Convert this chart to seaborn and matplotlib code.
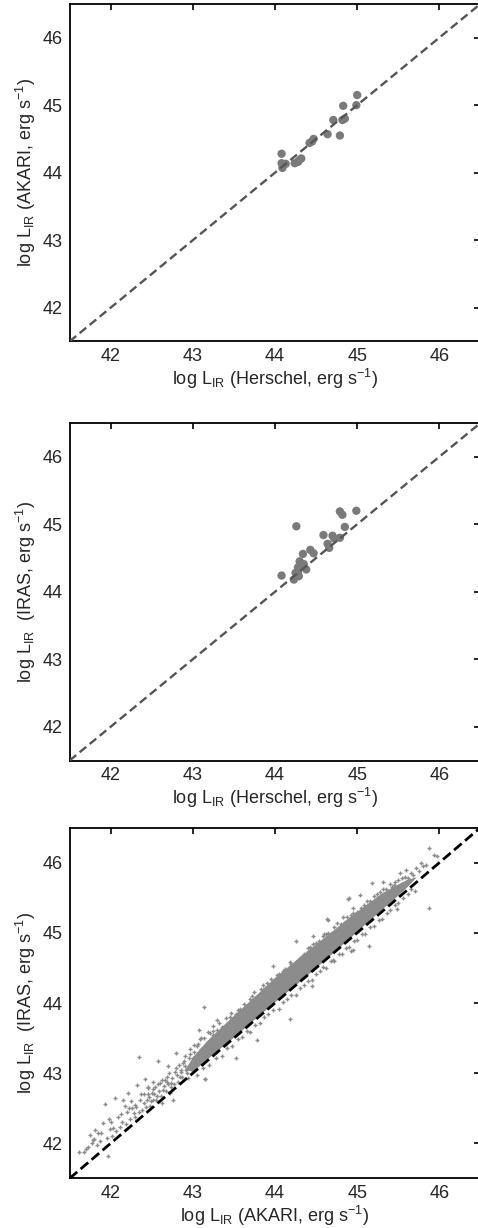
import numpy as np
import pandas as pd
import matplotlib
matplotlib.use("Agg")
import matplotlib.pyplot as plt
import seaborn as sns

# ---- data ----
lims = [41.5, 46.5]          # 1:1 line / axis range
ticks = [42, 43, 44, 45, 46]

# panel 1: Herschel vs AKARI
herschel_1 = [44.08, 44.08, 44.09, 44.13, 44.24, 44.28, 44.32, 44.29, 44.42, 44.47,
              44.45, 44.64, 44.71, 44.79, 44.83, 44.82, 44.85, 44.99, 45.00]
akari_1 = [44.28, 44.14, 44.07, 44.13, 44.14, 44.16, 44.21, 44.18, 44.44, 44.50,
           44.46, 44.57, 44.78, 44.55, 44.99, 44.78, 44.80, 45.00, 45.15]

# panel 2: Herschel vs IRAS
herschel_2 = [44.08, 44.26, 44.23, 44.25, 44.28, 44.30, 44.29, 44.34, 44.35, 44.38,
              44.43, 44.47, 44.59, 44.64, 44.66, 44.70, 44.72, 44.79, 44.79, 44.82,
              44.85, 44.99, 44.28]
iras_2 = [44.24, 44.97, 44.18, 44.28, 44.36, 44.45, 44.23, 44.56, 44.41, 44.33,
          44.62, 44.57, 44.84, 44.71, 44.65, 44.83, 44.79, 44.80, 45.19, 45.14,
          44.96, 45.20, 44.28]

# panel 3: AKARI vs IRAS, solid core of the cloud (lower / upper envelope)
core_x = [42.90, 43.0, 43.2, 43.5, 43.8, 44.0, 44.3, 44.6, 44.9, 45.1, 45.3, 45.45, 45.60, 45.72]
core_lo = [43.05, 43.03, 43.23, 43.52, 43.82, 44.02, 44.31, 44.61, 44.92, 45.13, 45.34, 45.49, 45.65, 45.80]
core_hi = [43.05, 43.24, 43.50, 43.83, 44.15, 44.37, 44.66, 44.94, 45.22, 45.40, 45.57, 45.67, 45.76, 45.80]

# panel 3: faint end (x < 43.3)
low_x = [41.61, 41.67, 41.70, 41.75, 41.77, 41.81, 41.87, 41.91, 41.93, 41.97,
         41.99, 42.01, 42.05, 42.09, 42.11, 42.15, 42.17, 42.21, 42.23, 42.28,
         42.32, 42.34, 42.36, 42.38, 42.42, 42.44, 42.46, 42.48, 42.50, 42.52,
         42.56, 42.58, 42.60, 42.62, 42.64, 42.68, 42.70, 42.72, 42.74, 42.76,
         42.78, 42.80, 42.82, 42.84, 42.88, 42.90, 42.92, 42.94, 42.96, 42.98,
         43.00, 43.05, 43.07, 43.09, 43.11, 43.15, 43.17, 43.21, 43.25, 43.29,
         41.80, 41.85, 42.00, 42.20, 42.26, 42.40, 42.54, 42.66, 42.86, 42.45,
         42.70, 42.52, 42.30,
         41.72, 41.78, 41.83, 41.88, 41.95, 41.98, 42.03, 42.07, 42.12, 42.14,
         42.19, 42.22, 42.25, 42.29, 42.31, 42.35, 42.37, 42.40, 42.43, 42.45,
         42.47, 42.49, 42.51, 42.53, 42.55, 42.57, 42.59, 42.61, 42.63, 42.65,
         42.67, 42.69, 42.71, 42.73, 42.75, 42.77, 42.79, 42.81, 42.83, 42.85,
         42.87, 42.89, 42.91, 42.93, 42.95, 42.97, 42.99, 43.01, 43.03, 43.06,
         43.08, 43.10, 43.12, 43.14, 43.16, 43.19, 43.22, 43.24, 43.27, 43.30]
low_y = [41.87, 41.88, 41.92, 42.12, 42.00, 42.19, 42.04, 42.29, 42.56, 41.82,
         42.20, 42.11, 42.64, 42.37, 42.23, 42.62, 42.53, 42.72, 42.34, 42.43,
         42.83, 43.23, 42.62, 42.48, 42.91, 42.62, 42.79, 42.53, 42.72, 42.88,
         42.67, 43.18, 42.86, 42.57, 42.76, 42.95, 43.10, 42.72, 42.86, 42.62,
         43.02, 43.29, 42.88, 42.95, 43.14, 43.24, 43.05, 42.93, 43.34, 43.13,
         43.22, 43.38, 43.14, 43.48, 43.29, 42.91, 43.43, 43.57, 43.67, 43.76,
         42.06, 42.15, 42.30, 42.45, 42.50, 42.70, 42.80, 42.90, 43.05, 42.70,
         42.85, 42.62, 42.55,
         41.95, 42.05, 41.98, 42.15, 42.08, 42.35, 42.22, 42.18, 42.42, 42.30,
         42.28, 42.50, 42.60, 42.38, 42.52, 42.45, 42.70, 42.58, 42.52, 42.80,
         42.66, 42.60, 42.78, 42.70, 42.62, 42.85, 42.74, 42.68, 42.90, 42.82,
         42.74, 42.88, 43.00, 42.80, 42.93, 42.85, 43.08, 42.98, 43.12, 43.02,
         42.94, 43.18, 43.10, 43.00, 43.22, 43.28, 43.05, 43.30, 43.18, 43.42,
         43.26, 43.35, 43.20, 43.50, 43.30, 43.45, 43.38, 43.55, 43.48, 43.62]

# panel 3: upper fringe of the cloud
up_x = [43.02, 43.10, 43.18, 43.25, 43.32, 43.40, 43.46, 43.55, 43.62, 43.70,
        43.75, 43.83, 43.90, 43.95, 44.05, 44.12, 44.20, 44.28, 44.35, 44.42,
        44.50, 44.58, 44.65, 44.72, 44.80, 44.88, 44.95, 45.05, 45.12, 45.20,
        45.28, 45.35, 45.42, 45.50, 45.58, 45.65, 45.72,
        43.35, 43.45, 43.52, 43.65, 43.72, 43.80, 43.86, 43.98, 44.02, 44.10,
        44.18, 44.24, 44.32, 44.40, 44.46, 44.54, 44.62, 44.68, 44.76, 44.85,
        44.92, 45.00, 45.08, 45.16, 45.24, 45.32, 45.40, 45.46, 45.55,
        43.30, 43.42, 43.58, 43.65, 43.88, 44.10, 44.40, 44.60, 45.25, 45.45]
up_y = [43.40, 43.50, 43.58, 43.60, 43.72, 43.78, 43.86, 43.90, 43.98, 44.05,
        44.15, 44.20, 44.28, 44.34, 44.42, 44.48, 44.55, 44.62, 44.70, 44.80,
        44.86, 44.95, 45.00, 45.08, 45.12, 45.22, 45.28, 45.36, 45.45, 45.52,
        45.58, 45.62, 45.66, 45.75, 45.80, 45.85, 45.93,
        43.66, 43.80, 43.84, 43.95, 44.10, 44.12, 44.26, 44.30, 44.40, 44.42,
        44.58, 44.56, 44.66, 44.72, 44.84, 44.88, 44.98, 44.98, 45.14, 45.16,
        45.26, 45.30, 45.40, 45.46, 45.55, 45.62, 45.70, 45.72, 45.78,
        43.55, 43.70, 43.92, 43.95, 44.22, 44.45, 44.78, 44.98, 45.50, 45.68]

# panel 3: lower fringe (at / below the 1:1 line)
dn_x = [43.05, 43.20, 43.35, 43.48, 43.60, 43.70, 43.82, 43.92, 44.05, 44.15,
        44.25, 44.35, 44.45, 44.55, 44.62, 44.72, 44.82, 44.90, 45.00, 45.10,
        45.20, 45.30, 45.40, 45.50, 45.62,
        43.12, 43.28, 43.42, 43.55, 43.66, 43.76, 43.87, 43.98, 44.10, 44.20,
        44.30, 44.40, 44.50, 44.58, 44.68, 44.78, 44.86, 44.96, 45.06, 45.16,
        45.26, 45.36, 45.46, 45.56, 45.66]
dn_y = [42.98, 43.12, 43.25, 43.38, 43.52, 43.58, 43.72, 43.85, 43.92, 44.05,
        44.12, 44.25, 44.33, 44.45, 44.50, 44.60, 44.70, 44.80, 44.90, 44.98,
        45.10, 45.20, 45.32, 45.42, 45.55,
        43.08, 43.22, 43.36, 43.48, 43.60, 43.68, 43.80, 43.90, 44.02, 44.12,
        44.22, 44.32, 44.42, 44.52, 44.60, 44.70, 44.78, 44.88, 44.98, 45.08,
        45.18, 45.28, 45.40, 45.50, 45.62]

# panel 3: isolated outliers
out_x = [43.13, 43.15, 43.53, 43.78, 44.18, 43.08, 43.98, 44.89, 44.95, 44.25,
         44.65, 45.88, 45.93, 45.97, 45.78, 45.84, 45.18, 45.03, 44.90, 44.63,
         44.46, 45.88, 45.70, 45.48, 45.15, 44.93, 44.71, 44.45, 44.83, 45.32,
         45.52, 45.60, 44.95, 45.62, 45.68, 45.75, 45.80]
out_y = [43.94, 42.91, 43.22, 43.47, 43.77, 43.62, 44.53, 45.48, 44.75, 44.89,
         45.18, 46.21, 46.11, 46.10, 45.99, 45.97, 45.71, 45.54, 45.49, 45.20,
         44.95, 45.35, 45.60, 45.34, 44.81, 44.74, 44.62, 44.24, 45.23, 45.73,
         45.85, 45.89, 45.35, 45.78, 45.82, 45.88, 45.95]

# ---- style ----
sns.set_style("white")
plt.rcParams["font.family"] = ["Liberation Sans", "DejaVu Sans"]
plt.rcParams["mathtext.fontset"] = "custom"
plt.rcParams["mathtext.rm"] = "Liberation Sans"
plt.rcParams["mathtext.it"] = "Liberation Sans"

W, H = 478, 1228
fig = plt.figure(figsize=(W / 100, H / 100), dpi=100)

left, width = 69.6 / W, 410.8 / W
ax1 = fig.add_axes([left, 1 - 341.4 / H, width, 337.5 / H])
ax2 = fig.add_axes([left, 1 - 760.5 / H, width, 337.5 / H])
ax3 = fig.add_axes([left, 1 - 1178.4 / H, width, 350.8 / H])

df1 = pd.DataFrame({"x": herschel_1, "y": akari_1})
df2 = pd.DataFrame({"x": herschel_2, "y": iras_2})
df3 = pd.DataFrame({"x": low_x + up_x + dn_x + out_x,
                    "y": low_y + up_y + dn_y + out_y})

dot = "#7a7a7a"
for ax, df in [(ax1, df1), (ax2, df2)]:
    ax.plot(lims, lims, color="#555555", lw=1.7, dashes=(3.6, 1.9), zorder=3)
    sns.scatterplot(data=df, x="x", y="y", ax=ax, color=dot, s=36,
                    edgecolor="none", zorder=2)

# panel 3
grey = "#8c8c8c"
ax3.fill_between(core_x, core_lo, core_hi, color=grey, lw=0, zorder=1)
sns.scatterplot(data=df3, x="x", y="y", ax=ax3, color=grey, marker="+",
                s=12, linewidth=1.0, zorder=2)
ax3.plot(lims, lims, color="black", lw=2.0, dashes=(3.6, 1.6), zorder=3)

lab = r"log L$_{\mathrm{IR}}$"
labels = [
    (ax1, lab + " (Herschel, erg s$^{-1}$)", lab + " (AKARI, erg s$^{-1}$)"),
    (ax2, lab + " (Herschel, erg s$^{-1}$)", lab + "  (IRAS, erg s$^{-1}$)"),
    (ax3, lab + " (AKARI, erg s$^{-1}$)", lab + "  (IRAS, erg s$^{-1}$)"),
]
for ax, xl, yl in labels:
    ax.set_xlim(lims)
    ax.set_ylim(lims)
    ax.set_xticks(ticks)
    ax.set_yticks(ticks)
    ax.set_xlabel(xl, fontsize=13, labelpad=1)
    ax.set_ylabel(yl, fontsize=13, labelpad=3)
    ax.tick_params(direction="in", length=4, width=1.2, labelsize=13,
                   top=True, right=True, pad=5, color="black")
    for sp in ax.spines.values():
        sp.set_visible(True)
        sp.set_color("black")
        sp.set_linewidth(1.3)
    ax.set_facecolor("white")

fig.savefig("out.png", dpi=100, facecolor="white")
